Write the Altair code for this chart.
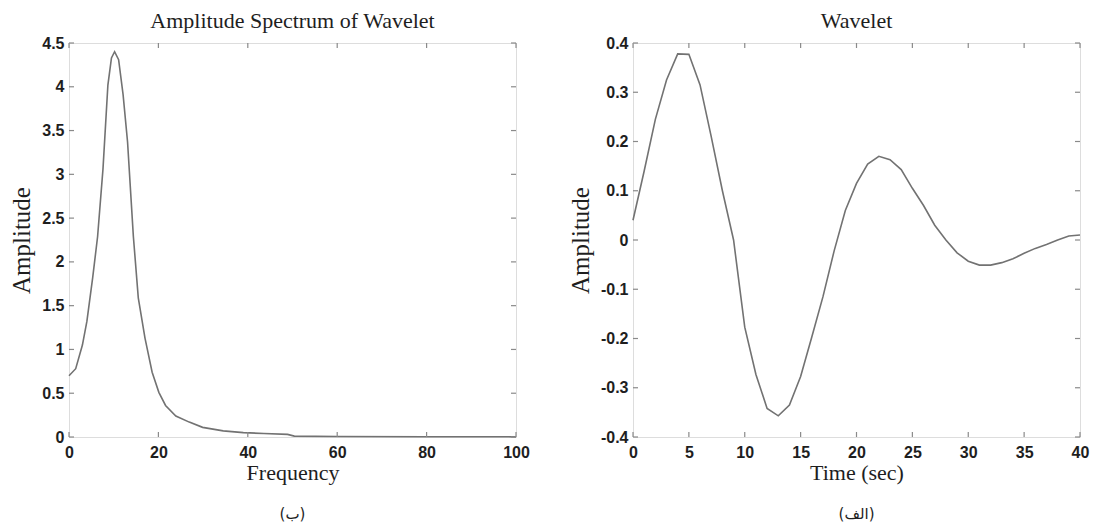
import altair as alt
import pandas as pd

# ---- data: amplitude spectrum (left panel) ----
freq = [0, 1.5, 3, 4, 5.3, 6.4, 7.6, 8.7, 9.5, 10.2, 11.1, 12.1, 13.1, 14.4, 15.5,
        17, 18.6, 20.1, 21.6, 23.9, 26.9, 29.9, 34.5, 39, 43.6, 48.9, 50.4, 60, 80, 100]
spec_amp = [0.70, 0.78, 1.05, 1.32, 1.82, 2.29, 3.06, 4.02, 4.33, 4.40, 4.31, 3.91, 3.37, 2.29, 1.59,
            1.13, 0.74, 0.51, 0.36, 0.24, 0.17, 0.11, 0.07, 0.05, 0.04, 0.03, 0.01, 0.005, 0.003, 0.002]

# ---- data: wavelet (right panel) ----
time_s = list(range(0, 41))
wave_amp = [0.04, 0.14, 0.245, 0.325, 0.378, 0.377, 0.315, 0.21, 0.10, 0.0,
            -0.177, -0.273, -0.342, -0.357, -0.335, -0.277, -0.197, -0.115, -0.022, 0.06,
            0.115, 0.154, 0.17, 0.163, 0.143, 0.105, 0.07, 0.03, 0.0, -0.026,
            -0.043, -0.051, -0.051, -0.046, -0.038, -0.027, -0.017, -0.009, 0.0, 0.008, 0.01]

# ---- tick values and texts ----
spec_xticks = [0, 20, 40, 60, 80, 100]
spec_yticks = [0, 0.5, 1, 1.5, 2, 2.5, 3, 3.5, 4, 4.5]
wave_xticks = [0, 5, 10, 15, 20, 25, 30, 35, 40]
wave_yticks = [-0.4, -0.3, -0.2, -0.1, 0, 0.1, 0.2, 0.3, 0.4]
titles = ["Amplitude Spectrum of Wavelet", "Wavelet"]
xtitles = ["Frequency", "Time (sec)"]
ytitle = "Amplitude"
captions = ["(ب)", "(الف)"]

W, H = 447, 394
TICK = 5
LINE = "#727272"
FRAME = "#8a8a8a"
TXT = "#1e1e1e"


def panel(xs, ys, xdom, ydom, xticks, yticks, title, xtitle, caption, yexpr):
    df = pd.DataFrame({"x": xs, "y": ys})
    xsc = alt.Scale(domain=xdom, nice=False, zero=False)
    ysc = alt.Scale(domain=ydom, nice=False, zero=False)
    xaxis = alt.Axis(values=xticks, title=xtitle, grid=False, domain=False, ticks=False,
                     labelFlush=False, labelOverlap=False, labelPadding=7,
                     labelFont="Liberation Sans", labelFontWeight="bold", labelFontSize=16,
                     labelColor=TXT, titleFont="Liberation Serif", titleFontWeight="normal",
                     titleFontSize=22, titleColor=TXT, titlePadding=2)
    yaxis = alt.Axis(values=yticks, title=ytitle, grid=False, domain=False, ticks=False,
                     labelExpr=yexpr, labelFlush=False, labelOverlap=False, labelPadding=5,
                     labelFont="Liberation Sans", labelFontWeight="bold", labelFontSize=16,
                     labelColor=TXT, titleFont="Liberation Serif", titleFontWeight="normal",
                     titleFontSize=25, titleColor=TXT, titlePadding=7)
    line = alt.Chart(df).mark_line(color=LINE, strokeWidth=1.6).encode(
        x=alt.X("x:Q", scale=xsc, axis=xaxis),
        y=alt.Y("y:Q", scale=ysc, axis=yaxis),
    )
    dx = pd.DataFrame({"t": xticks})
    dy = pd.DataFrame({"t": yticks})
    tb = alt.Chart(dx).mark_rule(color=FRAME, strokeWidth=1.2).encode(
        x=alt.X("t:Q", scale=xsc), y=alt.value(H), y2=alt.value(H - TICK))
    tt = alt.Chart(dx).mark_rule(color=FRAME, strokeWidth=1.2).encode(
        x=alt.X("t:Q", scale=xsc), y=alt.value(0), y2=alt.value(TICK))
    tl = alt.Chart(dy).mark_rule(color=FRAME, strokeWidth=1.2).encode(
        y=alt.Y("t:Q", scale=ysc), x=alt.value(0), x2=alt.value(TICK))
    tr = alt.Chart(dy).mark_rule(color=FRAME, strokeWidth=1.2).encode(
        y=alt.Y("t:Q", scale=ysc), x=alt.value(W), x2=alt.value(W - TICK))
    cap = alt.Chart(pd.DataFrame({"c": [caption]})).mark_text(
        font="DejaVu Sans", fontSize=15, color=TXT, baseline="middle", align="center"
    ).encode(x=alt.value(W / 2), y=alt.value(H + 77), text="c:N")
    return alt.layer(line, tb, tt, tl, tr, cap).properties(
        width=W, height=H,
        title=alt.TitleParams(title, font="Liberation Serif", fontSize=22, fontWeight="normal",
                              color=TXT, anchor="middle", offset=2),
    )


left = panel(freq, spec_amp, [0, 100], [0, 4.5], spec_xticks, spec_yticks,
             titles[0], xtitles[0], captions[0], "format(datum.value, '~g')")
right = panel(time_s, wave_amp, [0, 40], [-0.4, 0.4], wave_xticks, wave_yticks,
              titles[1], xtitles[1], captions[1],
              "replace(format(datum.value, '.1~f'), '\u2212', '-')")

chart = alt.hconcat(left, right, spacing=37).properties(
    padding={"left": 9, "top": 9, "right": 2, "bottom": 2}
).configure_view(stroke=FRAME, strokeWidth=1.5).configure(background="white")

chart.save("out.html", embed_options={"renderer": "svg", "actions": False})
